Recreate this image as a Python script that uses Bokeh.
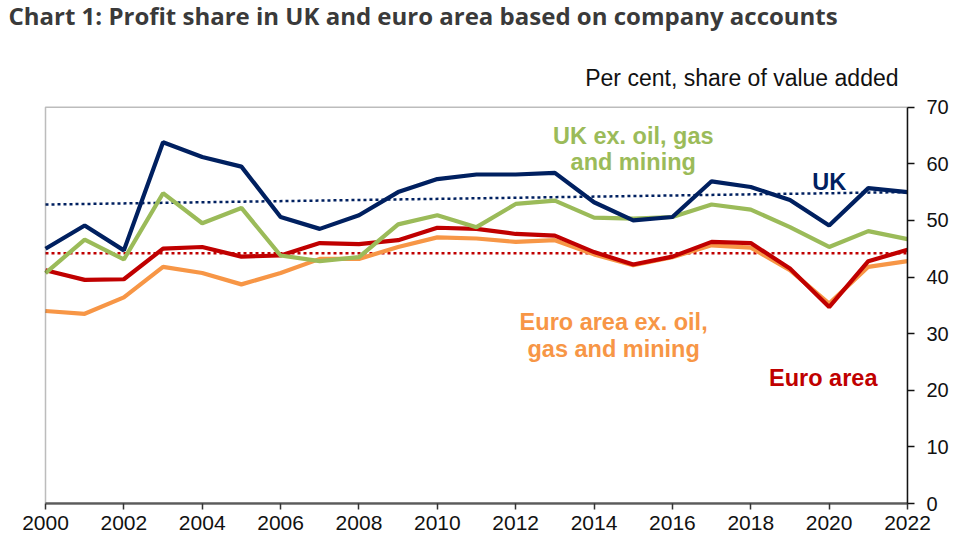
from bokeh.plotting import figure
from bokeh.models import Label, Range1d, FixedTicker, BoxAnnotation
from bokeh.embed import file_html
from bokeh.resources import INLINE

years = list(range(2000, 2023))
uk = [45.0, 49.1, 44.7, 63.8, 61.2, 59.5, 50.6, 48.5, 50.9, 55.0, 57.3, 58.1,
      58.1, 58.4, 53.2, 50.0, 50.6, 56.9, 55.9, 53.6, 49.1, 55.7, 55.0]
uk_ex = [40.7, 46.6, 43.1, 54.8, 49.5, 52.2, 43.8, 42.8, 43.5, 49.3, 50.9, 48.8,
         52.9, 53.5, 50.5, 50.3, 50.6, 52.8, 51.9, 48.8, 45.3, 48.1, 46.7]
ea = [41.2, 39.5, 39.6, 45.0, 45.3, 43.6, 43.8, 46.0, 45.8, 46.5, 48.7, 48.5,
      47.6, 47.3, 44.4, 42.2, 43.6, 46.2, 46.0, 41.5, 34.7, 42.8, 44.8]
ea_ex = [34.0, 33.5, 36.4, 41.8, 40.7, 38.7, 40.7, 43.2, 43.2, 45.3, 47.0, 46.8,
         46.2, 46.5, 44.0, 42.1, 43.5, 45.6, 45.2, 41.2, 35.3, 41.8, 42.8]
uk_trend_years = [2000, 2022]
uk_trend = [52.8, 55.0]
ea_avg_years = [2000, 2022]
ea_avg = [44.2, 44.2]
x_ticks = list(range(2000, 2023, 2))
y_ticks = list(range(0, 71, 10))

NAVY = "#002060"
GREEN = "#9BBB59"
RED = "#C00000"
ORANGE = "#F79646"

# geometry (pixels): plot box from x=45..907, y=106.7..503.3 ; canvas starts at 0,0
X0, X1, Y0, Y1 = 2000, 2022, 0, 70
PX_LEFT, PX_RIGHT, PX_TOP, PX_BOTTOM = 45.0, 907.0, 106.7, 503.3
ppx = (PX_RIGHT - PX_LEFT) / (X1 - X0)
ppy = (PX_BOTTOM - PX_TOP) / (Y1 - Y0)
x_start = X0 - PX_LEFT / ppx
y_end = Y1 + PX_TOP / ppy

p = figure(frame_width=int(PX_RIGHT), frame_height=int(round(PX_BOTTOM)),
           output_backend="svg", toolbar_location=None, y_axis_location="right",
           x_range=Range1d(x_start, X1), y_range=Range1d(Y0, y_end),
           min_border_left=0, min_border_top=0, min_border_right=44,
           min_border_bottom=34)
p.grid.visible = False
p.background_fill_color = "white"
p.border_fill_color = "white"
p.outline_line_color = None

# plot box border (top/left visible; bottom/right covered by axes)
p.add_layout(BoxAnnotation(left=X0, right=X1, bottom=Y0, top=Y1,
                           fill_color=None, fill_alpha=0,
                           line_color="#222222", line_width=1.5))

xa = p.xaxis[0]
xa.ticker = FixedTicker(ticks=x_ticks)
xa.bounds = (X0, X1)
xa.axis_line_color = "#666666"
xa.axis_line_width = 2.5
xa.major_tick_line_color = "#333333"
xa.major_tick_line_width = 1.5
xa.major_tick_out = 6
xa.major_tick_in = 0
xa.minor_tick_line_color = None
xa.major_label_standoff = 6
xa.major_label_text_font = "Liberation Sans"
xa.major_label_text_font_size = "21px"
xa.major_label_text_color = "#111111"

ya = p.yaxis[0]
ya.ticker = FixedTicker(ticks=y_ticks)
ya.bounds = (Y0, Y1)
ya.axis_line_color = "#111111"
ya.axis_line_width = 1.5
ya.major_tick_line_color = "#111111"
ya.major_tick_line_width = 1.5
ya.major_tick_out = 7
ya.major_tick_in = 0
ya.minor_tick_line_color = None
ya.major_label_standoff = 12
ya.major_label_text_font = "Liberation Sans"
ya.major_label_text_font_size = "20px"
ya.major_label_text_color = "#111111"

# averages / trend
p.line(uk_trend_years, uk_trend, line_color=NAVY, line_width=2.5, line_dash="3 3")
p.line(ea_avg_years, ea_avg, line_color=RED, line_width=2.5, line_dash="3 3")

p.line(years, ea_ex, line_color=ORANGE, line_width=4.2)
p.line(years, ea, line_color=RED, line_width=4.2)
p.line(years, uk_ex, line_color=GREEN, line_width=4.2)
p.line(years, uk, line_color=NAVY, line_width=4.2)

def lab(text, x, y, color, size="23.5px", xo=0, yo=0, align="center",
        font="Liberation Sans", style="bold"):
    p.add_layout(Label(x=x, y=y, x_offset=xo, y_offset=yo, text=text,
                       text_color=color, text_font_size=size, text_font=font,
                       text_font_style=style, text_align=align,
                       text_baseline="middle"))

lab("Chart 1: Profit share in UK and euro area based on company accounts",
    X0, Y1, "#3a3a3a", "24px", xo=8 - PX_LEFT, yo=PX_TOP - 15,
    align="left", font="Open Sans")
lab("Per cent, share of value added", X1, Y1, "#111111", "23px",
    xo=-9, yo=PX_TOP - 77.3, align="right", style="normal")

lab("UK ex. oil, gas", 2015.0, 64.9, GREEN)
lab("and mining", 2015.0, 60.3, GREEN)
lab("UK", 2020.0, 56.8, NAVY)
lab("Euro area ex. oil,", 2014.5, 32.0, ORANGE)
lab("gas and mining", 2014.5, 27.3, ORANGE)
lab("Euro area", 2019.85, 22.2, RED)

open("out.html", "w").write(file_html(p, INLINE))
